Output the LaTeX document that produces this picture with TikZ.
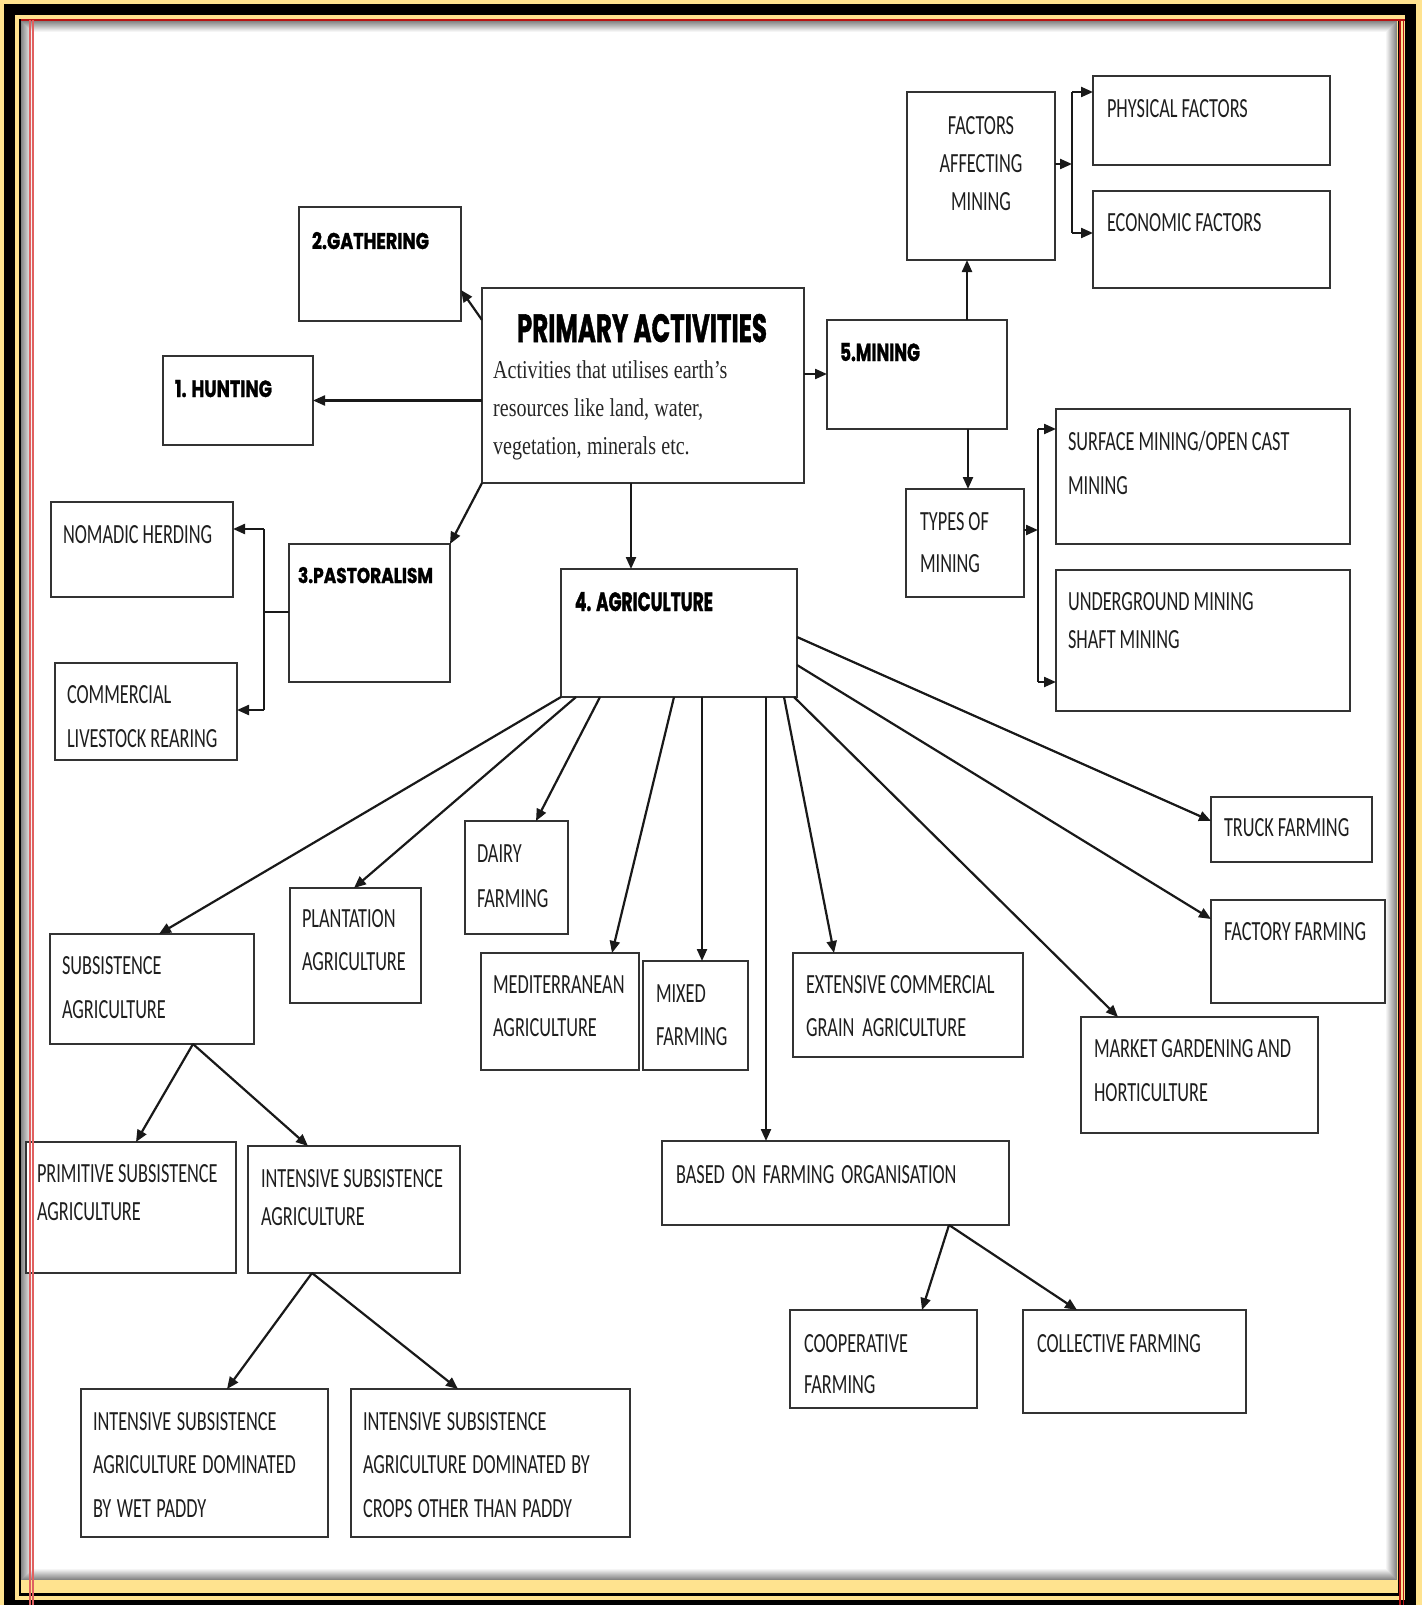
\documentclass[tikz,border=0pt]{standalone}
\usepackage{fontspec}
\usepackage{graphicx}
\usetikzlibrary{arrows.meta,calc}
\setmainfont{Carlito}
\newfontfamily\bodyfont[FakeStretch=0.66]{Carlito}
\newfontfamily\headfont[BoldFeatures={FakeBold=1.5}]{Poppins}
\newfontfamily\descfont[FakeStretch=0.78]{Liberation Serif}
\definecolor{frameyellow}{HTML}{FFE38F}
\definecolor{inkgray}{HTML}{1E1E1E}
\definecolor{boxline}{HTML}{333333}
\definecolor{redline}{HTML}{B81414}
\definecolor{pinkline}{HTML}{E06060}

\tikzset{
  box/.style={draw=boxline, line width=2.2pt, rectangle, inner sep=0pt, outer sep=0pt, fill=white},
  btext/.style={anchor=base west, inner sep=0pt, outer sep=0pt, text=inkgray, align=left,
    text width=420pt, font=\bodyfont\fontsize{27.7}{#1}\selectfont,
    execute at begin node={\spaceskip=4pt\relax}},
  btext/.default=43,
  wide space/.style={execute at begin node={\spaceskip=#1\relax}},
  head/.style={anchor=base west, inner sep=0pt, outer sep=0pt, text=black},
  arr/.style={draw=black!90, line width=2.2pt, -{Triangle[length=12pt,width=10pt]}},
  link/.style={draw=black!90, line width=2.2pt},
}
% box: name, left, top, right, bottom (pixel units, y downwards)
\newcommand\mkbox[5]{\node[box, anchor=north west, minimum width={(#4-#2)*1pt},
  minimum height={(#5-#3)*1pt}] (#1) at (#2,#3) {};}
\newcommand\headtext[6]{\node[head] (#1) at (#2,#3) {\resizebox{#4pt}{#5pt}{\headfont\bfseries #6}};}

\begin{document}
\begin{tikzpicture}[x=1pt,y=-1pt]
\useasboundingbox (0,0) rectangle (1422,1605);

% ---- frame ----
\fill[frameyellow] (0,0) rectangle (1422,1605);
\fill[black] (4,4) rectangle (1416,1605);
\fill[frameyellow] (15,15) rectangle (1405,1600);
\fill[black] (19,19) rectangle (1400,1596);
\fill[frameyellow] (21,21) rectangle (1398,1593);
\fill[white] (21,21) rectangle (1397,1580);
\foreach \i in {0,...,10} {
  \pgfmathtruncatemacro\shade{48-4.4*\i}
  \draw[line width=1.05pt, draw=black!\shade] ({21.5+\i},{21.5+\i}) rectangle ({1396.5-\i},{1579.5-\i});
}

% ---- boxes ----
\mkbox{gath}{299}{207}{461}{321}
\mkbox{hunt}{163}{356}{313}{445}
\mkbox{prim}{482}{288}{804}{483}
\mkbox{mine}{827}{320}{1007}{429}
\mkbox{fact}{907}{92}{1055}{260}
\mkbox{phys}{1093}{76}{1330}{165}
\mkbox{econ}{1093}{191}{1330}{288}
\mkbox{types}{906}{489}{1024}{597}
\mkbox{surf}{1056}{409}{1350}{544}
\mkbox{under}{1056}{570}{1350}{711}
\mkbox{nomad}{51}{502}{233}{597}
\mkbox{comm}{55}{663}{237}{760}
\mkbox{past}{289}{544}{450}{682}
\mkbox{agr}{561}{569}{797}{697}
\mkbox{sub}{50}{934}{254}{1044}
\mkbox{plant}{290}{888}{421}{1003}
\mkbox{dairy}{465}{821}{568}{934}
\mkbox{medit}{481}{953}{639}{1070}
\mkbox{mixed}{643}{961}{748}{1070}
\mkbox{ext}{793}{953}{1023}{1057}
\mkbox{market}{1081}{1017}{1318}{1133}
\mkbox{factory}{1211}{900}{1385}{1003}
\mkbox{truck}{1211}{797}{1372}{862}
\mkbox{based}{662}{1141}{1009}{1225}
\mkbox{coop}{790}{1310}{977}{1408}
\mkbox{coll}{1023}{1310}{1246}{1413}
\mkbox{primsub}{26}{1142}{236}{1273}
\mkbox{intsub}{248}{1146}{460}{1273}
\mkbox{wet}{81}{1389}{328}{1537}
\mkbox{other}{351}{1389}{630}{1537}

% ---- bracket joints ----
\coordinate (fbar) at (1072,164);
\coordinate (fbartop) at (1072,92);
\coordinate (fbarbot) at (1072,233);
\coordinate (tbar) at (1038,530);
\coordinate (tbartop) at (1038,429);
\coordinate (tbarbot) at (1038,682);
\coordinate (pbar) at (264,612);
\coordinate (pbartop) at (264,529);
\coordinate (pbarbot) at (264,710);

% ---- connectors from the centre box ----
\draw[arr] (prim.west |- hunt.east) -- (hunt.east);
\draw[arr] ([yshift=-32pt]prim.north west) -- ([yshift=-83pt]gath.north east);
\draw[arr] (prim.south west) -- (past.north east);
\draw[arr] ([xshift=149pt]prim.south west) -- ([xshift=70pt]agr.north west);
\draw[arr] ([yshift=-86pt]prim.north east) -- ([yshift=-54pt]mine.north west);

% ---- mining ----
\draw[arr] ([xshift=140pt]mine.north west) -- ([xshift=60pt]fact.south west);
\draw[arr] ([yshift=-72pt]fact.north east) -- (fbar);
\draw[link] (fbartop) -- (fbarbot);
\draw[arr] (fbartop) -- ([yshift=-16pt]phys.north west);
\draw[arr] (fbarbot) -- ([yshift=-42pt]econ.north west);
\draw[arr] ([xshift=141pt]mine.south west) -- ([xshift=62pt]types.north west);
\draw[arr] ([yshift=-41pt]types.north east) -- (tbar);
\draw[link] (tbartop) -- (tbarbot);
\draw[arr] (tbartop) -- ([yshift=-20pt]surf.north west);
\draw[arr] (tbarbot) -- ([yshift=-112pt]under.north west);

% ---- pastoralism ----
\draw[link] ([yshift=-68pt]past.north west) -- (pbar);
\draw[link] (pbartop) -- (pbarbot);
\draw[arr] (pbartop) -- ([yshift=-27pt]nomad.north east);
\draw[arr] (pbarbot) -- ([yshift=-47pt]comm.north east);

% ---- agriculture ----
\draw[arr] (agr.south west) -- ([xshift=109pt]sub.north west);
\draw[arr] ([xshift=15pt]agr.south west) -- ([xshift=64pt]plant.north west);
\draw[arr] ([xshift=39pt]agr.south west) -- ([xshift=71pt]dairy.north west);
\draw[arr] ([xshift=113pt]agr.south west) -- ([xshift=131pt]medit.north west);
\draw[arr] ([xshift=141pt]agr.south west) -- ([xshift=59pt]mixed.north west);
\draw[arr] ([xshift=205pt]agr.south west) -- ([xshift=104pt]based.north west);
\draw[arr] ([xshift=223pt]agr.south west) -- ([xshift=41pt]ext.north west);
\draw[arr] ([xshift=233pt]agr.south west) -- ([xshift=37pt]market.north west);
\draw[arr] ([yshift=-96pt]agr.north east) -- ([yshift=-19pt]factory.north west);
\draw[arr] ([yshift=-68pt]agr.north east) -- ([yshift=-24pt]truck.north west);

\draw[arr] ([xshift=143pt]sub.south west) -- ([xshift=110pt]primsub.north west);
\draw[arr] ([xshift=143pt]sub.south west) -- ([xshift=60pt]intsub.north west);
\draw[arr] ([xshift=64pt]intsub.south west) -- ([xshift=146pt]wet.north west);
\draw[arr] ([xshift=64pt]intsub.south west) -- ([xshift=107pt]other.north west);
\draw[arr] ([xshift=287pt]based.south west) -- ([xshift=132pt]coop.north west);
\draw[arr] ([xshift=287pt]based.south west) -- ([xshift=54pt]coll.north west);

% ---- headings ----
\headtext{hprim}{517}{342}{250}{28}{PRIMARY ACTIVITIES}
\headtext{hgath}{312}{249}{117}{17}{2.GATHERING}
\headtext{hhunt}{175}{397}{97}{17}{1. HUNTING}
\headtext{hpast}{298}{583}{135}{16}{3.PASTORALISM}
\headtext{hagr}{575}{611}{138}{19}{4. AGRICULTURE}
\headtext{hmine}{840}{361}{80}{18}{5.MINING}

\node[anchor=base west, inner sep=0pt, text=black!85, align=left, text width=320pt,
  font=\descfont\fontsize{25.7}{38.4}\selectfont, wide space=5.3pt] (tdesc) at (493,378)
  {Activities that utilises earth’s\\resources like land, water,\\vegetation, minerals etc.};

% ---- box texts ----
\node[btext, anchor=base, text width=148pt, align=center, font=\bodyfont\fontsize{27.7}{38}\selectfont] (tfact) at (981,135) {FACTORS\\AFFECTING\\MINING};
\node[btext] (tphys) at (1107,118) {PHYSICAL FACTORS};
\node[btext] (tecon) at (1107,232) {ECONOMIC FACTORS};
\node[btext=42] (ttypes) at (920,530) {TYPES OF\\MINING};
\node[btext=44] (tsurf) at (1068,450) {SURFACE MINING/OPEN CAST\\MINING};
\node[btext=38] (tunder) at (1068,610) {UNDERGROUND MINING\\SHAFT MINING};
\node[btext] (tnomad) at (63,543) {NOMADIC HERDING};
\node[btext=44] (tcomm) at (67,703) {COMMERCIAL\\LIVESTOCK REARING};
\node[btext=44] (tsub) at (62,974) {SUBSISTENCE\\AGRICULTURE};
\node[btext=43] (tplant) at (302,927) {PLANTATION\\AGRICULTURE};
\node[btext=45] (tdairy) at (477,862) {DAIRY\\FARMING};
\node[btext=43] (tmedit) at (493,993) {MEDITERRANEAN\\AGRICULTURE};
\node[btext=43] (tmixed) at (656,1002) {MIXED\\FARMING};
\node[btext=43] (text) at (806,993) {EXTENSIVE COMMERCIAL\\GRAIN\ \ AGRICULTURE};
\node[btext=44] (tmarket) at (1094,1057) {MARKET GARDENING AND\\HORTICULTURE};
\node[btext] (tfactory) at (1224,940) {FACTORY FARMING};
\node[btext] (ttruck) at (1224,836) {TRUCK FARMING};
\node[btext, wide space=7pt] (tbased) at (676,1183) {BASED ON FARMING ORGANISATION};
\node[btext=41] (tcoop) at (804,1352) {COOPERATIVE\\FARMING};
\node[btext] (tcoll) at (1037,1352) {COLLECTIVE FARMING};
\node[btext=38] (tprimsub) at (37,1182) {PRIMITIVE SUBSISTENCE\\AGRICULTURE};
\node[btext=38] (tintsub) at (261,1187) {INTENSIVE SUBSISTENCE\\AGRICULTURE};
\node[btext=43.5, wide space=5.5pt] (twet) at (93,1430) {INTENSIVE SUBSISTENCE\\AGRICULTURE DOMINATED\\BY WET PADDY};
\node[btext=43.5, wide space=5.5pt] (tother) at (363,1430) {INTENSIVE SUBSISTENCE\\AGRICULTURE DOMINATED BY\\CROPS OTHER THAN PADDY};

% ---- red rules over the page edge ----
\draw[redline, line width=2pt] (21,20) -- (1405,20);
\draw[pinkline, line width=1.6pt] (30,20) -- (30,1605);
\draw[pinkline, line width=1.2pt] (33,20) -- (33,1605);
\draw[redline, line width=1.6pt] (1399.8,20) -- (1399.8,1605);
\draw[redline, line width=1.2pt] (1403.3,20) -- (1403.3,1605);
\end{tikzpicture}
\end{document}
